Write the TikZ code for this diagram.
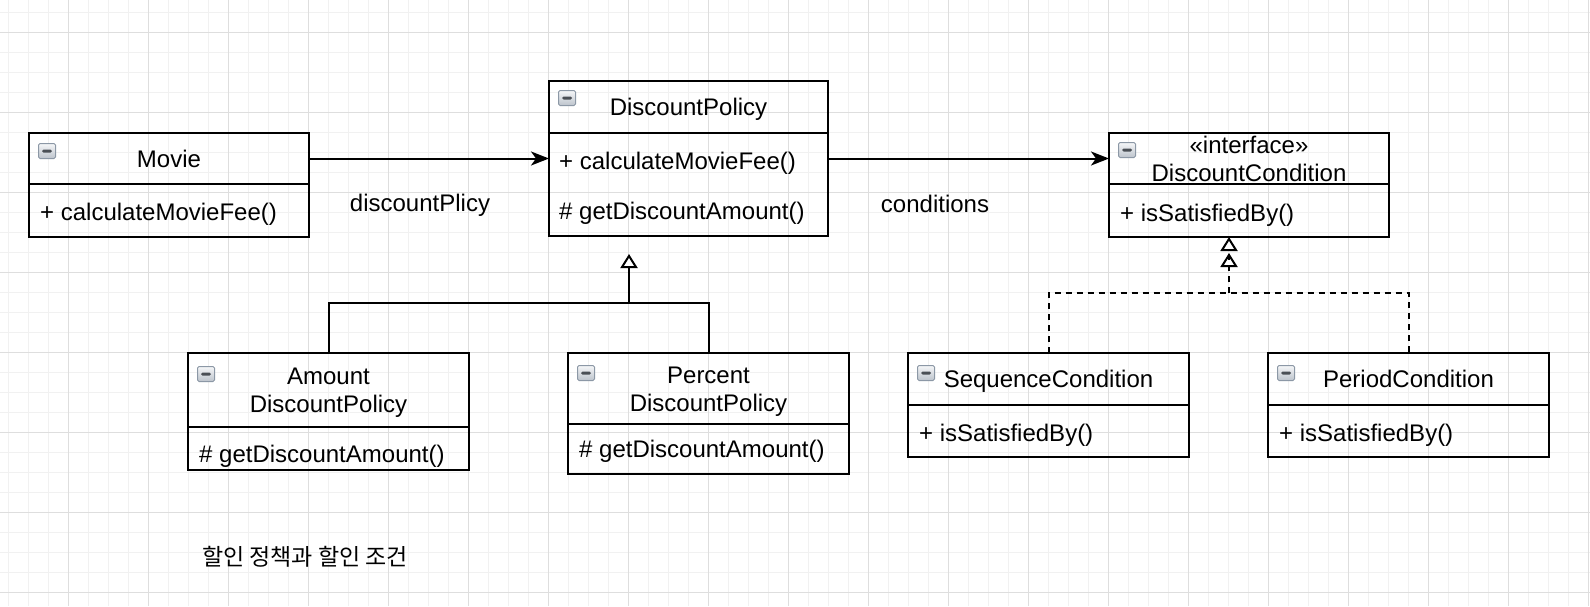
\documentclass[tikz,border=0pt]{standalone}
\usepackage{fontspec}
\setmainfont{Liberation Sans}
\newfontfamily\krfont{Noto Sans CJK KR}
\usetikzlibrary{arrows.meta, positioning}

\definecolor{gridlight}{HTML}{F1F1F1}
\definecolor{griddark}{HTML}{DEDEDE}
\definecolor{iconedge}{HTML}{8C98A6}
\definecolor{icontop}{HTML}{F6F7F9}
\definecolor{iconbot}{HTML}{BCC3CB}
\definecolor{iconbar}{HTML}{4A4F55}

\tikzset{
  minorline/.style={gridlight, line width=1pt},
  majorline/.style={griddark, line width=1pt},
  classhead/.style={draw, line width=2pt, inner sep=0pt, outer sep=0pt, align=center,
    text height=17pt, text depth=0pt, font=\fontsize{24}{28}\selectfont},
  twolines/.style={text height=45pt},
  classbody/.style={draw, line width=2pt, inner sep=0pt, outer sep=0pt},
  member/.style={anchor=base west, inner sep=0pt, font=\fontsize{24}{28}\selectfont},
  rolelabel/.style={anchor=base, inner sep=0pt, font=\fontsize{24}{28}\selectfont},
  minusicon/.style={anchor=north west, minimum width=17pt, minimum height=15pt,
    inner sep=0pt, draw=iconedge, line width=1pt, rounded corners=1.5pt,
    top color=icontop, bottom color=iconbot,
    path picture={\fill[iconbar] ([xshift=-5pt,yshift=-1.5pt]path picture bounding box.center)
      rectangle ([xshift=5pt,yshift=1.5pt]path picture bounding box.center);}},
  assoc/.style={line width=2pt, -{Stealth[length=18pt, width=14pt, inset=5pt]}},
  generalize/.style={line width=2pt, -{Triangle[length=14pt, width=17pt, fill=white]}},
  realize/.style={generalize, dash pattern=on 6pt off 5pt},
}

\begin{document}
\begin{tikzpicture}[x=1pt, y=-1pt]
  \fill[white] (0,0) rectangle (1590,606);
  \path[use as bounding box] (0,0) rectangle (1590,606);

  % grid
  \foreach \gx in {8,28,...,1590} \draw[minorline] (\gx,0) -- (\gx,606);
  \foreach \gy in {12,32,...,606} \draw[minorline] (0,\gy) -- (1590,\gy);
  \foreach \gx in {68,148,...,1590} \draw[majorline] (\gx,0) -- (\gx,606);
  \foreach \gy in {32,112,...,606} \draw[majorline] (0,\gy) -- (1590,\gy);

  % classes
  \node[classhead, minimum width=280pt, minimum height=51pt] (movie) at (169,158.5) {Movie};
  \node[classbody, minimum width=280pt, minimum height=53pt, below=0pt of movie] (moviebody) {};
  \node[member] (moviefee) at (40,220.5) {+ calculateMovieFee()};

  \node[classhead, minimum width=279pt, minimum height=52pt] (dp) at (688.5,107) {DiscountPolicy};
  \node[classbody, minimum width=279pt, minimum height=103pt, below=0pt of dp] (dpbody) {};
  \node[member] (dpfee) at (559,169.5) {+ calculateMovieFee()};
  \node[member] (dpamount) at (559,219.5) {\# getDiscountAmount()};

  \node[classhead, twolines, minimum width=280pt, minimum height=51pt] (dc) at (1249,158.5) {«interface»\\DiscountCondition};
  \node[classbody, minimum width=280pt, minimum height=53pt, below=0pt of dc] (dcbody) {};
  \node[member] (dcsat) at (1120,221) {+ isSatisfiedBy()};

  \node[classhead, twolines, minimum width=281pt, minimum height=74pt] (amount) at (328.5,390) {Amount\\DiscountPolicy};
  \node[classbody, minimum width=281pt, minimum height=43pt, below=0pt of amount] (amountbody) {};
  \node[member] (amountget) at (199,462.5) {\# getDiscountAmount()};

  \node[classhead, twolines, minimum width=281pt, minimum height=71pt] (percent) at (708.5,388.5) {Percent\\DiscountPolicy};
  \node[classbody, minimum width=281pt, minimum height=50pt, below=0pt of percent] (percentbody) {};
  \node[member] (percentget) at (579,457.5) {\# getDiscountAmount()};

  \node[classhead, minimum width=281pt, minimum height=52pt] (seq) at (1048.5,379) {SequenceCondition};
  \node[classbody, minimum width=281pt, minimum height=52pt, below=0pt of seq] (seqbody) {};
  \node[member] (seqsat) at (919,441) {+ isSatisfiedBy()};

  \node[classhead, minimum width=281pt, minimum height=52pt] (period) at (1408.5,379) {PeriodCondition};
  \node[classbody, minimum width=281pt, minimum height=52pt, below=0pt of period] (periodbody) {};
  \node[member] (periodsat) at (1279,441) {+ isSatisfiedBy()};

  \foreach \c/\dy in {movie/10pt, dp/9pt, dc/9pt, amount/13pt, percent/12pt, seq/12pt, period/12pt}
    \node[minusicon] (\c-icon) at ([shift={(9pt,-\dy)}]\c.north west) {};

  % associations
  \draw[assoc] (movie.east) -- (movie.east -| dp.west);
  \draw[assoc] (dpbody.east |- dc.west) -- (dc.west);
  \node[rolelabel] (dplabel) at (420,211) {discountPlicy};
  \node[rolelabel] (dclabel) at (935,212) {conditions};

  % generalization
  \coordinate (dpjoin) at (629,303);
  \coordinate (dptip) at (629,254);
  \draw[line width=2pt] (amount.north) |- (dpjoin) -| (percent.north);
  \draw[generalize] (dpjoin) -- (dptip);

  % realization
  \coordinate (dcjoin) at (1229,293);
  \coordinate (dctip) at (1229,253);
  \draw[line width=2pt, dash pattern=on 6pt off 5pt] (seq.north) |- (dcjoin) -| (period.north);
  \draw[realize] (dcjoin) -- (dctip);
  \draw[realize] (dcjoin) -- (dcjoin |- dcbody.south);

  \node[font=\krfont\fontsize{23}{27}\selectfont] (caption) at (305,557) {할인 정책과 할인 조건};
\end{tikzpicture}
\end{document}
